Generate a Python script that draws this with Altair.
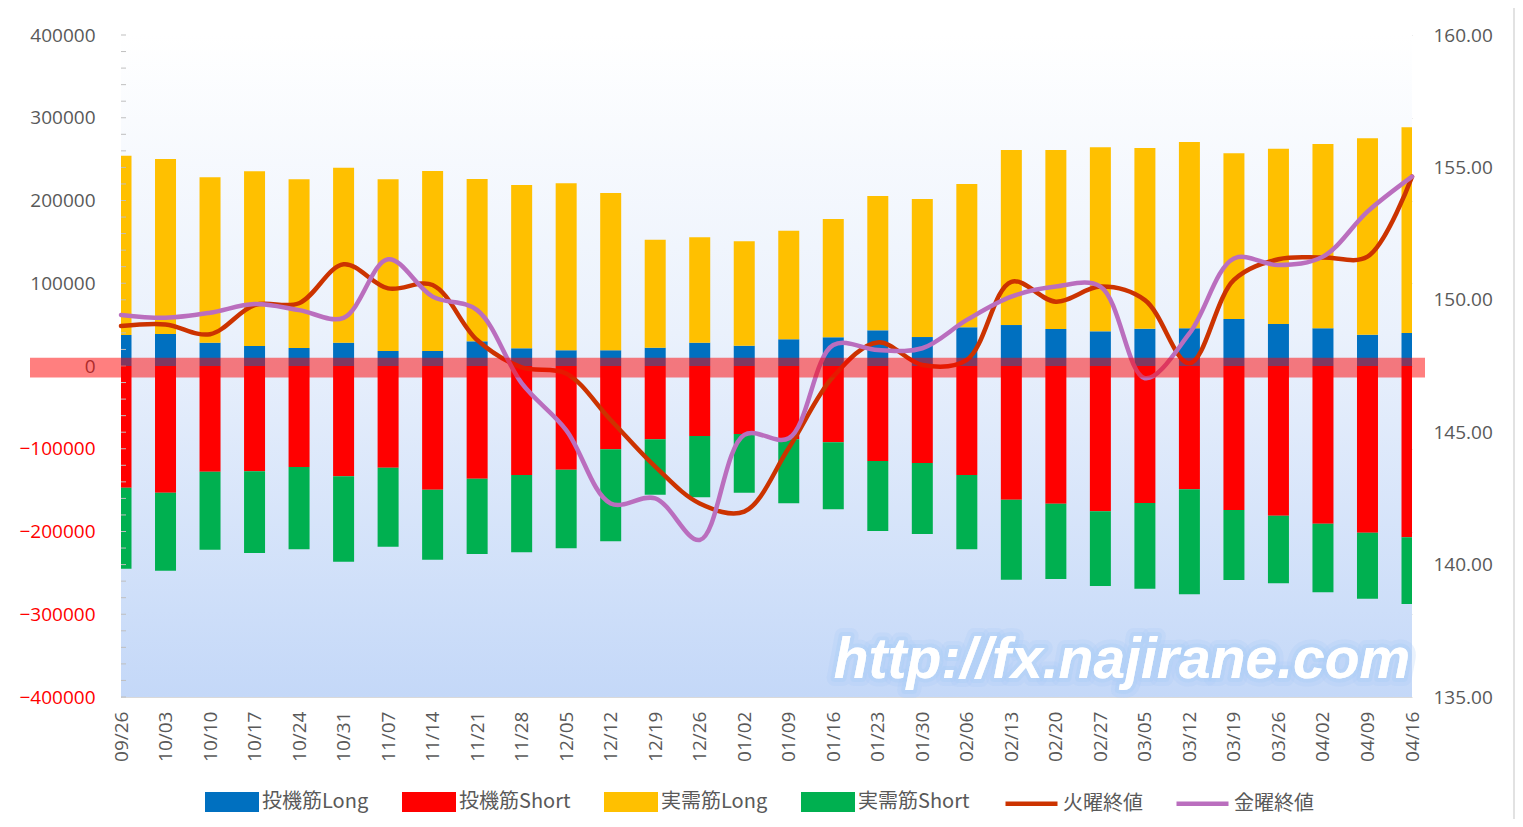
import altair as alt
import pandas as pd

# ---------------- data ----------------
dates = ["09/26", "10/03", "10/10", "10/17", "10/24", "10/31", "11/07", "11/14", "11/21", "11/28",
         "12/05", "12/12", "12/19", "12/26", "01/02", "01/09", "01/16", "01/23", "01/30", "02/06",
         "02/13", "02/20", "02/27", "03/05", "03/12", "03/19", "03/26", "04/02", "04/09", "04/16"]

spec_long = [37500, 38700, 28200, 24200, 21800, 28200, 18100, 18100, 29800, 21400,
             19000, 19000, 22100, 28200, 24500, 32300, 34700, 43100, 35000, 46800,
             49500, 44700, 41900, 45100, 45600, 56800, 50800, 45600, 37800, 39900]
spec_short = [-147100, -153100, -127700, -127300, -122100, -133300, -122900, -149500, -136200, -131700,
              -125300, -100700, -88600, -84600, -82200, -88600, -92200, -114800, -117200, -131700,
              -161600, -166400, -175600, -165600, -149000, -174000, -180900, -190600, -201500, -207000]
comm_long = [216600, 211500, 199800, 211100, 203800, 211400, 207500, 217500, 196200, 197300,
             201800, 190100, 130500, 127300, 126200, 131200, 142900, 162300, 166800, 173100,
             211500, 216300, 222400, 218300, 225100, 200200, 211800, 222700, 237400, 248600]
comm_short = [-97900, -94300, -94300, -98700, -99500, -103200, -95500, -84600, -91000, -93400,
              -95000, -111200, -66900, -74100, -70900, -77300, -81000, -84600, -85800, -89800,
              -96700, -91000, -90300, -103600, -126900, -84600, -81700, -82900, -79800, -80600]

tue_close = [149.01, 149.07, 148.70, 149.80, 149.87, 151.34, 150.43, 150.56, 148.48, 147.45,
             147.22, 145.46, 143.70, 142.31, 142.00, 144.40, 147.10, 148.39, 147.54, 147.73,
             150.68, 149.93, 150.50, 149.99, 147.60, 150.75, 151.53, 151.60, 151.63, 154.65]
fri_close = [149.43, 149.32, 149.51, 149.84, 149.61, 149.32, 151.53, 150.12, 149.61, 146.85,
             145.08, 142.31, 142.50, 140.93, 144.90, 144.77, 148.29, 148.10, 148.17, 149.24,
             150.12, 150.50, 150.50, 147.04, 148.73, 151.56, 151.31, 151.63, 153.33, 154.65]

bar_names = ["投機筋Long", "投機筋Short", "実需筋Long", "実需筋Short"]
bar_colors = ["#0070C0", "#FF0000", "#FFC000", "#00B050"]
line_names = ["火曜終値", "金曜終値"]
line_colors = ["#CC3300", "#BA6EBE"]

left_ticks = [-400000, -300000, -200000, -100000, 0, 100000, 200000, 300000, 400000]
minor_ticks = list(range(-400000, 400001, 20000))
right_ticks = [135, 140, 145, 150, 155, 160]
band_top, band_bottom = 10000, -14000
watermark = "http://fx.najirane.com"

# ---------------- tables ----------------
bar_series = [spec_long, spec_short, comm_long, comm_short]
bars_df = pd.DataFrame([
    {"date": d, "series": bar_names[k], "value": bar_series[k][i], "ord": k}
    for i, d in enumerate(dates) for k in range(4)
])
lines_df = pd.DataFrame(
    [{"date": d, "line": line_names[0], "price": tue_close[i]} for i, d in enumerate(dates)] +
    [{"date": d, "line": line_names[1], "price": fri_close[i]} for i, d in enumerate(dates)]
)
one = pd.DataFrame({"k": [0]})
band_df = pd.DataFrame({"top": [band_top], "bottom": [band_bottom]})
minor_df = pd.DataFrame({"v": minor_ticks})

W, H = 1291, 662
GRID = "#D9D9D9"
TXT = "#595959"
NUM_FONT = "Open Sans"
JP_FONT = "Noto Sans CJK JP"
WM_FONT = "Liberation Sans"

xenc = alt.X("date:O", sort=dates, scale=alt.Scale(type="point", padding=0),
             axis=alt.Axis(title=None, labelAngle=270, labelFontSize=19, labelFont=NUM_FONT,
                           labelColor=TXT, ticks=False, domain=False, labelPadding=14,
                           grid=False))
ydom = alt.Scale(domain=[-400000, 400000], nice=False)

bg = alt.Chart(one).mark_rect(
    fill=alt.Gradient(gradient="linear", x1=0, x2=0, y1=0, y2=1,
                      stops=[alt.GradientStop(offset=0, color="#FFFFFF"),
                             alt.GradientStop(offset=0.45, color="#EAF1FC"),
                             alt.GradientStop(offset=1, color="#C4D8F8")])
).encode(x=alt.value(0), x2=alt.value(W), y=alt.value(0), y2=alt.value(H))

bars = alt.Chart(bars_df).mark_bar(size=21, clip=True).encode(
    x=xenc,
    y=alt.Y("value:Q", stack="zero", scale=ydom,
            axis=alt.Axis(title=None, orient="left", values=left_ticks, format="d",
                          grid=True, gridColor=GRID, gridWidth=1.2, ticks=False,
                          domainColor="#BFBFBF", labelPadding=26, labelFontSize=19,
                          labelFont=NUM_FONT,
                          labelColor={"condition": {"test": "datum.value < 0", "value": "#FF0000"},
                                      "value": TXT})),
    color=alt.Color("series:N", scale=alt.Scale(domain=bar_names, range=bar_colors),
                    legend=alt.Legend(title=None, orient="none", legendX=84, legendY=740,
                                      direction="horizontal", columns=4,
                                      symbolType="M-1,-0.37H1V0.37H-1Z", symbolSize=2916,
                                      symbolStrokeWidth=0, symbolOpacity=1,
                                      labelFont=JP_FONT, labelFontSize=20, labelColor=TXT,
                                      labelOffset=3, columnPadding=33, padding=0)),
    order=alt.Order("ord:Q"),
)

minor = alt.Chart(minor_df).mark_rule(color="#BFBFBF", strokeWidth=1).encode(
    y=alt.Y("v:Q", scale=ydom, axis=None), x=alt.value(0), x2=alt.value(5))

lines = alt.Chart(lines_df).mark_line(interpolate="catmull-rom", strokeWidth=4.5, strokeCap="round").encode(
    x=xenc,
    y=alt.Y("price:Q", scale=alt.Scale(domain=[135, 160], nice=False, zero=False),
            axis=alt.Axis(title=None, orient="right", values=right_ticks, format=".2f",
                          grid=False, ticks=False, domain=False, labelPadding=21,
                          labelFontSize=19, labelFont=NUM_FONT, labelColor=TXT)),
    stroke=alt.Stroke("line:N", scale=alt.Scale(domain=line_names, range=line_colors),
                      legend=alt.Legend(title=None, orient="none", legendX=882, legendY=740,
                                        direction="horizontal", columns=2,
                                        symbolType="stroke", symbolSize=2704,
                                        symbolStrokeWidth=4.5,
                                        labelFont=JP_FONT, labelFontSize=20, labelColor=TXT,
                                        labelOffset=3, columnPadding=24, padding=0)),
)

band = alt.Chart(band_df).mark_rect(color="#FF0000", opacity=0.5).encode(
    x=alt.value(-91), x2=alt.value(1304),
    y=alt.Y("top:Q", scale=ydom, axis=None), y2="bottom:Q")

glow_outer = alt.Chart(one).transform_calculate(t=f"'{watermark}'").mark_text(
    font=WM_FONT, fontWeight="bold", fontStyle="italic", fontSize=57,
    align="center", baseline="alphabetic", fill="#FFFFFF", stroke="#AACDF7",
    strokeWidth=16, strokeOpacity=0.25, strokeJoin="round"
).encode(x=alt.value(1001), y=alt.value(643), text="t:N")

glow = alt.Chart(one).transform_calculate(t=f"'{watermark}'").mark_text(
    font=WM_FONT, fontWeight="bold", fontStyle="italic", fontSize=57,
    align="center", baseline="alphabetic", fill="#FFFFFF", stroke="#AACDF7",
    strokeWidth=8, strokeOpacity=0.35, strokeJoin="round"
).encode(x=alt.value(1001), y=alt.value(643), text="t:N")

wm = alt.Chart(one).transform_calculate(t=f"'{watermark}'").mark_text(
    font=WM_FONT, fontWeight="bold", fontStyle="italic", fontSize=57,
    align="center", baseline="alphabetic", fill="#FFFFFF"
).encode(x=alt.value(1001), y=alt.value(643), text="t:N")

border = alt.Chart(one).mark_rule(color="#D9D9D9", strokeWidth=1.5).encode(
    x=alt.value(1393), y=alt.value(-27), y2=alt.value(800))

chart = alt.layer(bg, bars, minor, lines, band, glow_outer, glow, wm, border).resolve_scale(
    y="independent", color="independent"
).properties(
    width=W, height=H,
    padding={"left": 113, "top": 27, "right": 103, "bottom": 122},
    autosize=alt.AutoSizeParams(type="none"),
    background="#FFFFFF",
).configure_view(stroke=None)

chart.save("out.html", embed_options={"renderer": "svg", "actions": False})
